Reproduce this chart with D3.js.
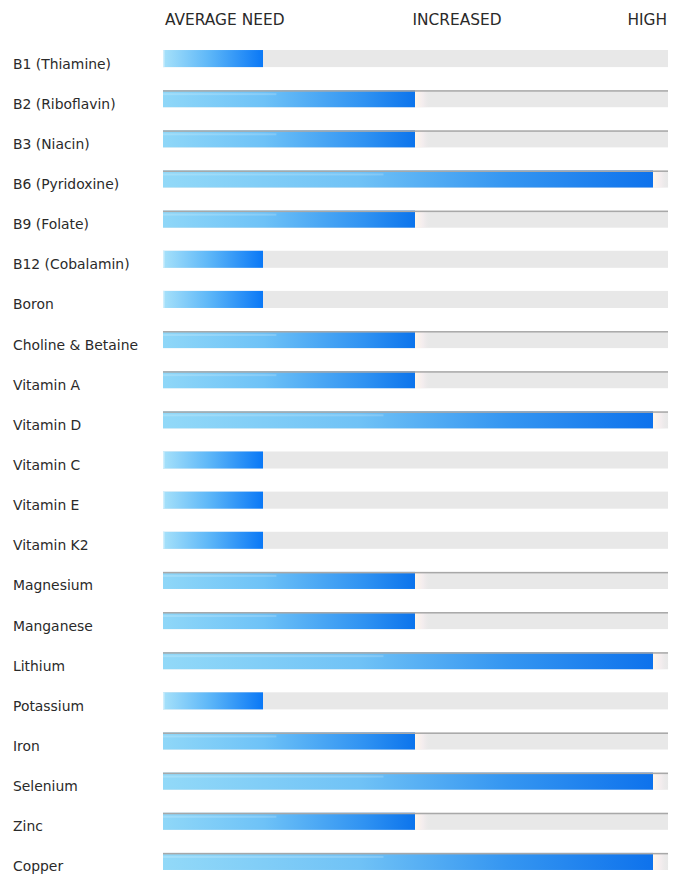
<!DOCTYPE html>
<html>
<head>
<meta charset="utf-8">
<script src="https://cdn.jsdelivr.net/npm/d3@7"></script>
<style>
  body { margin: 0; background: #fff; }
  text { font-family: "DejaVu Sans", sans-serif; fill: #2a2a2a; }
</style>
</head>
<body>
<div id="chart"></div>
<script>
const nutrients = [
  "B1 (Thiamine)", "B2 (Riboflavin)", "B3 (Niacin)", "B6 (Pyridoxine)",
  "B9 (Folate)", "B12 (Cobalamin)", "Boron", "Choline & Betaine",
  "Vitamin A", "Vitamin D", "Vitamin C", "Vitamin E", "Vitamin K2",
  "Magnesium", "Manganese", "Lithium", "Potassium", "Iron",
  "Selenium", "Zinc", "Copper"
];
const levels = [1, 2, 2, 3, 2, 1, 1, 2, 2, 3, 1, 1, 1, 2, 2, 3, 1, 2, 3, 2, 3];
const levelNames = ["AVERAGE NEED", "INCREASED", "HIGH"];

const width = 683;
const height = 876;

const svg = d3.select("#chart").append("svg")
  .attr("width", width).attr("height", height);

// bar length per level (uneven steps, as in the picture)
const x = d3.scaleLinear().domain([0, 1, 2, 3]).range([163, 263, 415, 653]);
const trackEnd = 668;

const y = d3.scaleBand()
  .domain(nutrients)
  .range([40, 40 + 40 * nutrients.length])
  .paddingInner(0.575)
  .paddingOuter(0.25);

const defs = svg.append("defs");
const grads = {
  1: [["0%", "#a6e1fa"], ["45%", "#5fb8f8"], ["100%", "#0a78f6"]],
  2: [["0%", "#8fd7f8"], ["40%", "#6ec2f7"], ["80%", "#2f92f2"], ["100%", "#0c74ec"]],
  3: [["0%", "#92d9f8"], ["40%", "#70c2f6"], ["70%", "#3596f1"], ["100%", "#0e72ec"]]
};
Object.entries(grads).forEach(([k, stops]) => {
  const g = defs.append("linearGradient").attr("id", "lvl" + k);
  stops.forEach(s => g.append("stop").attr("offset", s[0]).attr("stop-color", s[1]));
});
const fade = defs.append("linearGradient").attr("id", "fade");
fade.append("stop").attr("offset", "0%").attr("stop-color", "#fff6ea").attr("stop-opacity", 1);
fade.append("stop").attr("offset", "50%").attr("stop-color", "#f6eef0").attr("stop-opacity", 0.8);
fade.append("stop").attr("offset", "100%").attr("stop-color", "#e8e8e8").attr("stop-opacity", 0);

// header
svg.append("text").attr("x", 165).attr("y", 25).attr("font-size", 15.4).text(levelNames[0]);
svg.append("text").attr("x", 457).attr("y", 25).attr("font-size", 15.4)
  .attr("text-anchor", "middle").text(levelNames[1]);
svg.append("text").attr("x", 667).attr("y", 25).attr("font-size", 15.4)
  .attr("text-anchor", "end").text(levelNames[2]);

const rows = svg.selectAll("g.row")
  .data(nutrients.map((n, i) => ({ name: n, level: levels[i] })))
  .enter().append("g")
  .attr("class", "row")
  .attr("transform", d => `translate(0,${y(d.name)})`);

rows.append("text")
  .attr("x", 13)
  .attr("y", 18.5)
  .attr("font-size", 13.9)
  .text(d => d.name);

rows.append("rect")
  .attr("x", x(0))
  .attr("width", trackEnd - x(0))
  .attr("height", y.bandwidth())
  .attr("fill", "#e8e8e8");

rows.append("rect")
  .attr("x", x(0))
  .attr("width", d => x(d.level) - x(0))
  .attr("height", y.bandwidth())
  .attr("fill", d => `url(#lvl${d.level})`);

rows.filter(d => d.level > 1).append("rect")
  .attr("x", d => x(d.level))
  .attr("width", 16)
  .attr("height", y.bandwidth())
  .attr("fill", "url(#fade)");

rows.filter(d => d.level > 1).append("rect")
  .attr("x", x(0))
  .attr("width", trackEnd - x(0))
  .attr("height", 1.5)
  .attr("fill", "#a8a8a8");

rows.filter(d => d.level > 1).append("rect")
  .attr("x", x(0))
  .attr("y", 3)
  .attr("width", d => (x(d.level) - x(0)) * 0.45)
  .attr("height", 2)
  .attr("fill", "#ffffff")
  .attr("opacity", 0.18);

rows.filter(d => d.level === 1).append("rect")
  .attr("x", x(0))
  .attr("width", 1.5)
  .attr("height", y.bandwidth())
  .attr("fill", "#cfeefc");
</script>
</body>
</html>
